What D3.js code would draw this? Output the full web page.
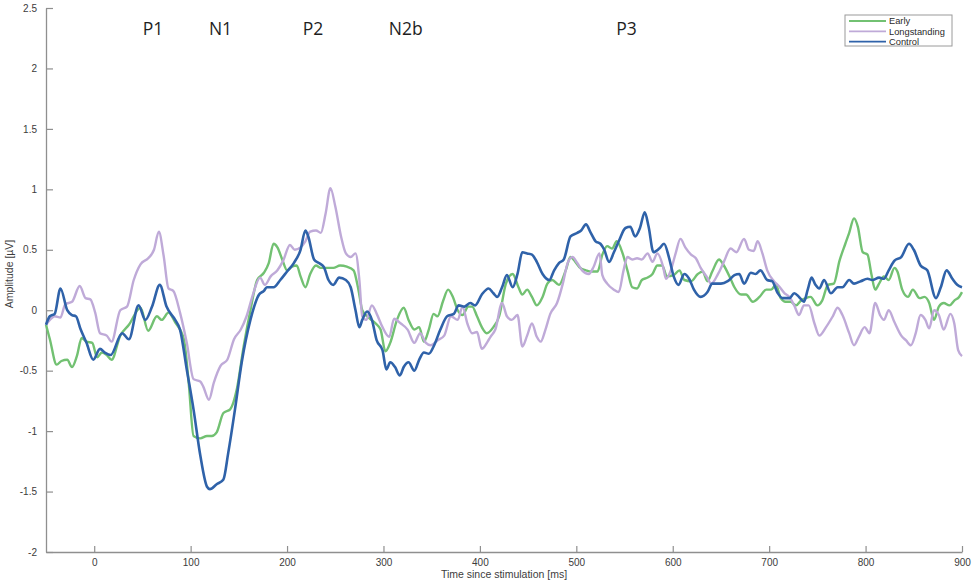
<!DOCTYPE html>
<html>
<head>
<meta charset="utf-8">
<script src="https://cdn.jsdelivr.net/npm/d3@7"></script>
<style>
  body { margin: 0; background: #fff; }
  svg { display: block; }
</style>
</head>
<body>
<svg id="chart"></svg>
<script>
// ERP traces (time in ms, amplitude in µV)
const controlT = [-50, -46, -41, -35, -28, -23, -19, -14, -8, -1, 6, 11, 17, 29, 36, 46, 53, 60, 68, 75, 84, 89, 96, 103, 110, 117, 120, 127, 134, 139, 146, 153, 162, 171, 176, 179, 186, 193, 200, 207, 214, 219, 222, 228, 233, 238, 243, 248, 254, 261, 266, 271, 275, 278, 283, 288, 293, 299, 303, 307, 312, 317, 321, 326, 332, 337, 342, 347, 352, 359, 366, 373, 378, 384, 390, 395, 402, 409, 414, 418, 423, 428, 434, 439, 444, 449, 454, 459, 465, 472, 477, 482, 487, 494, 501, 505, 510, 515, 520, 525, 529, 534, 539, 544, 551, 556, 561, 566, 571, 575, 580, 586, 591, 596, 601, 606, 612, 617, 622, 629, 636, 641, 650, 657, 664, 669, 674, 681, 686, 691, 698, 703, 709, 714, 721, 726, 731, 736, 740, 744, 748, 752, 757, 764, 771, 776, 783, 788, 795, 802, 807, 814, 819, 824, 830, 837, 845, 850, 857, 864, 873, 878, 884, 890, 895, 900];
const controlV = [-0.12, -0.05, -0.03, 0.18, 0.0, -0.04, -0.05, -0.16, -0.27, -0.41, -0.32, -0.35, -0.37, -0.19, -0.24, 0.04, -0.08, 0.03, 0.21, 0.03, -0.08, -0.16, -0.49, -0.82, -1.2, -1.46, -1.48, -1.44, -1.40, -1.18, -0.82, -0.43, -0.08, 0.13, 0.16, 0.19, 0.19, 0.25, 0.32, 0.39, 0.50, 0.66, 0.61, 0.42, 0.39, 0.36, 0.25, 0.21, 0.27, 0.25, 0.19, 0.0, -0.14, -0.08, -0.01, -0.08, -0.25, -0.33, -0.49, -0.43, -0.47, -0.54, -0.47, -0.43, -0.50, -0.41, -0.35, -0.36, -0.30, -0.16, -0.05, -0.03, 0.04, 0.03, 0.06, 0.04, 0.13, 0.18, 0.14, 0.11, 0.19, 0.29, 0.19, 0.30, 0.48, 0.47, 0.46, 0.40, 0.30, 0.25, 0.33, 0.39, 0.42, 0.61, 0.64, 0.66, 0.71, 0.64, 0.57, 0.55, 0.50, 0.40, 0.48, 0.57, 0.68, 0.69, 0.61, 0.68, 0.81, 0.69, 0.48, 0.51, 0.55, 0.44, 0.28, 0.21, 0.30, 0.26, 0.17, 0.11, 0.15, 0.22, 0.22, 0.24, 0.29, 0.30, 0.22, 0.31, 0.30, 0.33, 0.25, 0.24, 0.14, 0.10, 0.10, 0.14, 0.11, 0.07, 0.17, 0.27, 0.21, 0.18, 0.25, 0.14, 0.19, 0.19, 0.25, 0.22, 0.24, 0.26, 0.25, 0.27, 0.26, 0.33, 0.41, 0.44, 0.55, 0.50, 0.37, 0.33, 0.10, 0.19, 0.33, 0.26, 0.21, 0.19];

const earlyT = [-50, -46, -39, -34, -28, -23, -18, -13, -8, -2, 3, 8, 13, 18, 27, 36, 48, 56, 65, 70, 77, 84, 93, 98, 103, 110, 117, 122, 127, 134, 141, 148, 155, 162, 169, 176, 181, 186, 190, 195, 200, 205, 210, 214, 219, 224, 230, 235, 241, 248, 255, 262, 269, 274, 278, 283, 292, 297, 302, 307, 314, 321, 326, 332, 337, 342, 347, 352, 356, 362, 367, 372, 377, 382, 388, 392, 397, 402, 407, 414, 420, 427, 434, 440, 444, 449, 454, 459, 465, 470, 475, 482, 489, 494, 499, 504, 510, 515, 522, 527, 532, 537, 542, 548, 553, 558, 563, 568, 574, 579, 584, 589, 594, 601, 607, 612, 619, 626, 631, 636, 641, 648, 653, 660, 664, 671, 676, 683, 690, 697, 702, 707, 712, 717, 722, 728, 733, 738, 743, 750, 755, 761, 767, 773, 779, 783, 788, 792, 797, 802, 806, 810, 814, 819, 824, 830, 833, 838, 844, 849, 856, 861, 866, 871, 876, 881, 887, 892, 897, 900];
const earlyV = [-0.12, -0.24, -0.45, -0.42, -0.41, -0.47, -0.38, -0.23, -0.26, -0.27, -0.39, -0.35, -0.37, -0.41, -0.21, -0.12, 0.02, -0.17, -0.05, -0.08, -0.02, -0.10, -0.24, -0.6, -1.04, -1.06, -1.04, -1.04, -1.01, -0.85, -0.82, -0.65, -0.3, 0.0, 0.25, 0.31, 0.39, 0.55, 0.52, 0.42, 0.33, 0.36, 0.37, 0.28, 0.19, 0.30, 0.37, 0.35, 0.35, 0.35, 0.37, 0.36, 0.33, 0.17, 0.0, -0.05, -0.11, -0.16, -0.34, -0.27, -0.08, 0.02, -0.08, -0.16, -0.14, -0.26, -0.16, -0.03, -0.05, 0.08, 0.17, 0.11, 0.0, -0.04, 0.03, 0.03, -0.05, -0.14, -0.19, -0.14, -0.05, 0.22, 0.30, 0.19, 0.13, 0.17, 0.11, 0.04, 0.11, 0.22, 0.25, 0.21, 0.33, 0.44, 0.40, 0.35, 0.33, 0.32, 0.32, 0.46, 0.53, 0.51, 0.57, 0.47, 0.33, 0.19, 0.18, 0.25, 0.27, 0.30, 0.37, 0.37, 0.28, 0.29, 0.33, 0.25, 0.24, 0.30, 0.32, 0.24, 0.32, 0.42, 0.37, 0.26, 0.19, 0.13, 0.13, 0.07, 0.11, 0.17, 0.17, 0.21, 0.10, 0.07, 0.07, 0.04, 0.08, 0.10, 0.11, 0.04, 0.08, 0.21, 0.22, 0.41, 0.55, 0.64, 0.76, 0.69, 0.48, 0.46, 0.30, 0.17, 0.22, 0.28, 0.25, 0.35, 0.32, 0.17, 0.11, 0.17, 0.10, 0.11, 0.06, -0.08, 0.03, 0.06, 0.04, 0.08, 0.11, 0.15];

const longT = [-50, -46, -41, -35, -30, -23, -15, -9, -4, 1, 6, 13, 18, 27, 34, 41, 48, 56, 62, 67, 72, 77, 82, 89, 96, 103, 110, 113, 119, 124, 131, 138, 145, 152, 158, 165, 172, 177, 183, 190, 196, 203, 208, 214, 219, 224, 230, 235, 240, 245, 250, 256, 261, 266, 271, 275, 278, 282, 288, 293, 299, 306, 311, 318, 325, 332, 338, 344, 349, 356, 363, 370, 377, 382, 387, 392, 397, 402, 408, 411, 416, 423, 428, 433, 439, 444, 449, 454, 459, 463, 468, 473, 480, 486, 491, 496, 501, 506, 513, 518, 524, 527, 532, 539, 544, 549, 553, 558, 563, 568, 574, 579, 584, 590, 593, 598, 603, 608, 613, 619, 624, 629, 635, 640, 647, 653, 660, 666, 674, 679, 684, 688, 693, 698, 705, 710, 716, 721, 726, 731, 736, 741, 747, 752, 759, 766, 771, 776, 783, 788, 793, 799, 804, 810, 815, 819, 824, 830, 837, 842, 847, 852, 857, 862, 866, 871, 876, 881, 888, 892, 896, 900];
const longV = [-0.12, -0.08, -0.05, -0.06, 0.05, 0.07, 0.2, 0.1, 0.09, -0.02, -0.19, -0.21, -0.26, 0.0, 0.03, 0.25, 0.38, 0.43, 0.5, 0.65, 0.45, 0.18, 0.16, -0.02, -0.27, -0.57, -0.59, -0.63, -0.74, -0.6, -0.46, -0.41, -0.24, -0.16, -0.05, 0.14, 0.27, 0.21, 0.28, 0.33, 0.41, 0.54, 0.50, 0.52, 0.57, 0.65, 0.66, 0.64, 0.80, 1.01, 0.86, 0.61, 0.47, 0.44, 0.47, 0.25, -0.05, -0.08, 0.04, -0.03, -0.14, -0.22, -0.07, -0.11, -0.16, -0.27, -0.19, -0.27, -0.29, -0.25, -0.21, -0.05, -0.08, 0.03, -0.11, -0.19, -0.18, -0.32, -0.26, -0.22, -0.16, 0.06, -0.05, -0.08, -0.04, -0.30, -0.21, -0.11, -0.22, -0.26, -0.16, -0.03, 0.06, 0.22, 0.39, 0.44, 0.39, 0.33, 0.30, 0.36, 0.47, 0.29, 0.22, 0.17, 0.15, 0.33, 0.44, 0.42, 0.43, 0.42, 0.47, 0.40, 0.47, 0.36, 0.26, 0.33, 0.47, 0.59, 0.52, 0.46, 0.43, 0.35, 0.28, 0.22, 0.30, 0.40, 0.51, 0.48, 0.59, 0.50, 0.49, 0.57, 0.47, 0.33, 0.24, 0.20, 0.14, 0.11, 0.04, -0.04, 0.04, 0.04, -0.11, -0.21, -0.14, -0.05, 0.02, -0.04, -0.19, -0.29, -0.22, -0.14, -0.19, 0.06, -0.04, -0.08, 0.0, -0.10, -0.21, -0.25, -0.29, -0.19, -0.04, -0.08, -0.15, 0.0, -0.04, -0.16, -0.03, -0.11, -0.33, -0.38];

const seriesNames = ['Early', 'Longstanding', 'Control'];
const seriesColors = ['#72c172', '#bfaad8', '#2f62a9'];

const xTicks = [0, 100, 200, 300, 400, 500, 600, 700, 800, 900];
const yTicks = [-2, -1.5, -1, -0.5, 0, 0.5, 1, 1.5, 2, 2.5];

const peakNames = ['P1', 'N1', 'P2', 'N2b', 'P3'];
const peakTimes = [61, 131, 227, 323, 552];

const width = 973, height = 582;
const margin = { top: 8, right: 11, bottom: 30, left: 46 };

const svg = d3.select('#chart')
  .attr('width', width)
  .attr('height', height);

const x = d3.scaleLinear()
  .domain([-50, 900])
  .range([margin.left, width - margin.right]);

const y = d3.scaleLinear()
  .domain([-2, 2.5])
  .range([height - margin.bottom, margin.top]);

// Axes (MATLAB style: ticks point inward, no box)
const xAxis = svg.append('g')
  .attr('transform', `translate(0, ${height - margin.bottom})`)
  .call(d3.axisBottom(x).tickValues(xTicks).tickSizeInner(-6).tickSizeOuter(0).tickPadding(7));

const yAxis = svg.append('g')
  .attr('transform', `translate(${margin.left}, 0)`)
  .call(d3.axisLeft(y).tickValues(yTicks).tickFormat(d => String(d)).tickSizeInner(-7).tickSizeOuter(0).tickPadding(9));

[xAxis, yAxis].forEach(g => {
  g.select('.domain').attr('stroke', '#8f8f8f').attr('stroke-width', 1.3);
  g.selectAll('.tick line').attr('stroke', '#8f8f8f').attr('stroke-width', 1.2);
  g.selectAll('.tick text')
    .attr('fill', '#3c3c3c')
    .style('font-family', '"Liberation Sans", Arial, sans-serif')
    .style('font-size', '10px');
});

svg.append('text')
  .attr('x', (x(-50) + x(900)) / 2)
  .attr('y', height - 4)
  .attr('text-anchor', 'middle')
  .attr('fill', '#3c3c3c')
  .style('font-family', '"Liberation Sans", Arial, sans-serif')
  .style('font-size', '10.5px')
  .text('Time since stimulation [ms]');

svg.append('text')
  .attr('transform', `translate(13, ${y(0.3)}) rotate(-90)`)
  .attr('text-anchor', 'middle')
  .attr('fill', '#3c3c3c')
  .style('font-family', '"Liberation Sans", Arial, sans-serif')
  .style('font-size', '10.5px')
  .text('Amplitude [µV]');

// Traces
const line = d3.line()
  .x(d => x(d[0]))
  .y(d => y(d[1]))
  .curve(d3.curveMonotoneX);

const traces = [
  d3.zip(earlyT, earlyV),
  d3.zip(longT, longV),
  d3.zip(controlT, controlV)
];

svg.append('g')
  .selectAll('path')
  .data(traces)
  .enter()
  .append('path')
  .attr('d', line)
  .attr('fill', 'none')
  .attr('stroke', (d, i) => seriesColors[i])
  .attr('stroke-width', (d, i) => i === 2 ? 2.6 : 2.4)
  .attr('stroke-linejoin', 'round');

// Component labels
svg.append('g')
  .selectAll('text')
  .data(peakNames)
  .enter()
  .append('text')
  .attr('x', (d, i) => x(peakTimes[i]))
  .attr('y', y(2.28))
  .attr('text-anchor', 'middle')
  .attr('fill', '#1e1e1e')
  .style('font-family', '"Open Sans", sans-serif')
  .style('font-size', '17.5px')
  .text(d => d);

// Legend
const legend = svg.append('g').attr('transform', 'translate(845, 15)');
legend.append('rect')
  .attr('width', 107)
  .attr('height', 31)
  .attr('fill', '#fff')
  .attr('stroke', '#9a9a9a')
  .attr('stroke-width', 1);

const rows = legend.selectAll('g.row')
  .data(seriesNames)
  .enter()
  .append('g')
  .attr('class', 'row')
  .attr('transform', (d, i) => `translate(0, ${6 + i * 10.3})`);

rows.append('line')
  .attr('x1', 4).attr('x2', 41)
  .attr('stroke', (d, i) => seriesColors[i])
  .attr('stroke-width', 1.8);

rows.append('text')
  .attr('x', 44)
  .attr('dy', '0.35em')
  .attr('fill', '#2a2a2a')
  .style('font-family', '"Liberation Sans", Arial, sans-serif')
  .style('font-size', '9.3px')
  .text(d => d);
</script>
</body>
</html>
